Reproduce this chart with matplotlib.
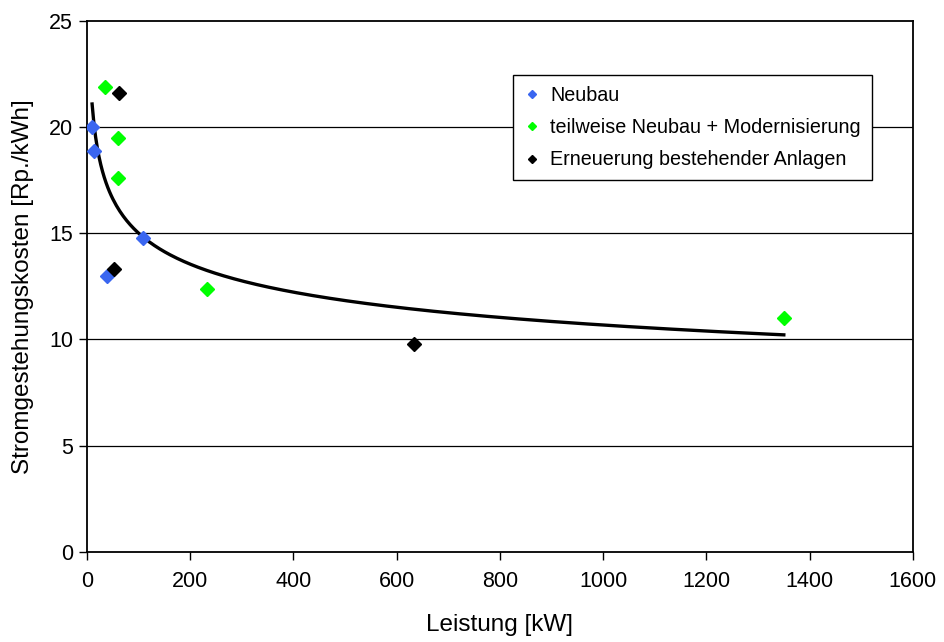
import numpy as np
import matplotlib
matplotlib.use('Agg')
import matplotlib.pyplot as plt

plt.rcParams['font.family'] = ['Liberation Sans', 'DejaVu Sans']

# ---- data ----------------------------------------------------------------
neubau_kw = [10, 13.5, 108, 39]
neubau_rp = [20.0, 18.9, 14.8, 13.0]

teil_kw = [35, 60, 60, 232, 1350]
teil_rp = [21.9, 19.5, 17.6, 12.4, 11.0]

erneu_kw = [62, 52, 634]
erneu_rp = [21.6, 13.3, 9.8]

# power trendline y = a * x^b
trend_a = 29.65
trend_b = -0.1478
trend_range = [10, 1350]

x_ticks = [0, 200, 400, 600, 800, 1000, 1200, 1400, 1600]
y_ticks = [0, 5, 10, 15, 20, 25]

# ---- figure ---------------------------------------------------------------
fig = plt.figure(figsize=(9.45, 6.42), dpi=100)
ax = fig.add_axes([0.092, 0.1407, 0.874, 0.8263])

for y in y_ticks[1:-1]:
    ax.axhline(y, color='black', linewidth=0.9, zorder=1)

xt = np.linspace(trend_range[0], trend_range[1], 400)
ax.plot(xt, trend_a * xt ** trend_b, color='black', linewidth=2.4, zorder=2)

ax.plot(neubau_kw, neubau_rp, 'D', color='#3a66f0', markersize=7,
        linestyle='none', zorder=3, label='Neubau')
ax.plot(teil_kw, teil_rp, 'D', color='#00ff00', markersize=7,
        linestyle='none', zorder=3, label='teilweise Neubau + Modernisierung')
ax.plot(erneu_kw, erneu_rp, 'D', color='black', markersize=7,
        linestyle='none', zorder=4, label='Erneuerung bestehender Anlagen')

ax.set_xlim(0, 1600)
ax.set_ylim(0, 25)
ax.set_xticks(x_ticks)
ax.set_yticks(y_ticks)
ax.tick_params(direction='out', length=6, width=1, labelsize=15.5, pad=4)
ax.tick_params(axis='x', pad=8)

for s in ax.spines.values():
    s.set_linewidth(1.3)
    s.set_color('black')

ax.set_xlabel('Leistung [kW]', fontsize=17.5, labelpad=16)
ax.set_ylabel('Stromgestehungskosten [Rp./kWh]', fontsize=17.5, labelpad=11)

leg = ax.legend(loc='upper left', bbox_to_anchor=(0.5156, 0.899),
                fontsize=14.2, markerscale=0.6, frameon=True, fancybox=False,
                edgecolor='black', framealpha=1, borderpad=0.55,
                handletextpad=0.55, labelspacing=0.68, handlelength=0.8,
                borderaxespad=0)
leg.get_frame().set_linewidth(1.0)
leg.set_zorder(5)

fig.savefig('out.png', dpi=100, facecolor='white')
